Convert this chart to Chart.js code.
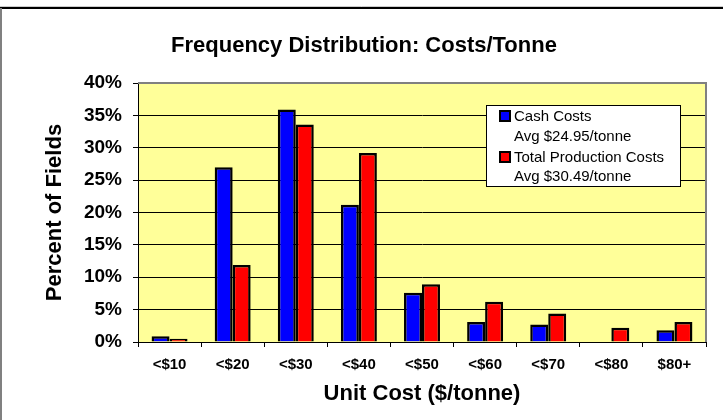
<!DOCTYPE html>
<html>
<head>
<meta charset="utf-8">
<script src="https://cdn.jsdelivr.net/npm/chart.js@4/dist/chart.umd.min.js"></script>
<style>
  html, body { margin: 0; padding: 0; background: #ffffff; }
  #wrap { width: 723px; height: 420px; }
</style>
</head>
<body>
<div id="wrap"><canvas id="c" width="723" height="420"></canvas></div>
<script>
// ---- data ----
const categories = ['<$10', '<$20', '<$30', '<$40', '<$50', '<$60', '<$70', '<$80', '$80+'];
const cashCosts  = [0.9, 27.0, 35.9, 21.2, 7.6, 3.1, 2.7, 0, 1.8];
const totalCosts = [0.5, 11.9, 33.6, 29.2, 8.9, 6.2, 4.4, 2.2, 3.1];
const yTickLabels = ['0%', '5%', '10%', '15%', '20%', '25%', '30%', '35%', '40%'];
const seriesNames = ['Cash Costs', 'Total Production Costs'];
const seriesNotes = ['Avg $24.95/tonne', 'Avg $30.49/tonne'];
const chartTitle = 'Frequency Distribution: Costs/Tonne';
const xTitle = 'Unit Cost ($/tonne)';
const yTitle = 'Percent of Fields';

const FONT = "'Liberation Sans', Arial, sans-serif";
const seriesColors = ['#0000FF', '#FF0000'];

const framePlugin = {
  id: 'frame',
  beforeDraw(chart) {
    const { ctx, chartArea: a } = chart;
    ctx.save();
    ctx.fillStyle = '#FFFF99';
    ctx.fillRect(a.left, a.top, a.right - a.left, a.bottom - a.top);
    // outer border pieces
    ctx.strokeStyle = '#000';
    ctx.lineWidth = 2;
    ctx.beginPath(); ctx.moveTo(0, 8); ctx.lineTo(chart.width, 8); ctx.stroke();
    ctx.strokeStyle = '#cccccc';
    ctx.lineWidth = 1;
    ctx.beginPath(); ctx.moveTo(0, 6.5); ctx.lineTo(chart.width, 6.5); ctx.stroke();
    ctx.strokeStyle = '#808080';
    ctx.lineWidth = 2;
    ctx.beginPath(); ctx.moveTo(1, 8); ctx.lineTo(1, chart.height); ctx.stroke();
    ctx.restore();
  },
  beforeDatasetsDraw(chart) {
    const { ctx, chartArea: a } = chart;
    ctx.save();
    ctx.strokeStyle = '#808080';
    ctx.lineWidth = 2;
    ctx.beginPath();
    ctx.moveTo(a.left, a.top);
    ctx.lineTo(a.right, a.top);
    ctx.lineTo(a.right, a.bottom);
    ctx.stroke();
    ctx.restore();
  },
  afterDraw(chart) {
    const { ctx } = chart;
    ctx.save();
    const bx = 486.5, by = 105.5, bw = 194, bh = 81;
    ctx.fillStyle = '#ffffff';
    ctx.fillRect(bx, by, bw, bh);
    ctx.strokeStyle = '#000';
    ctx.lineWidth = 1;
    ctx.strokeRect(bx, by, bw, bh);
    ctx.font = '15px ' + FONT;
    ctx.textBaseline = 'middle';
    ctx.textAlign = 'left';
    const rows = [[116, 136], [157, 176]];
    chart.data.datasets.forEach((ds, i) => {
      const [y1, y2] = rows[i];
      ctx.fillStyle = ds.backgroundColor;
      ctx.fillRect(500, y1 - 5, 10, 10);
      ctx.strokeStyle = '#000';
      ctx.lineWidth = 2;
      ctx.strokeRect(500, y1 - 5, 10, 10);
      ctx.fillStyle = '#000';
      ctx.fillText(seriesNames[i], 514, y1 + 0.5);
      ctx.fillText(seriesNotes[i], 514, y2 + 0.5);
    });
    ctx.restore();
  }
};

new Chart(document.getElementById('c'), {
  type: 'bar',
  data: {
    labels: categories,
    datasets: [
      { label: seriesNames[0], data: cashCosts, backgroundColor: seriesColors[0],
        borderColor: '#000', borderWidth: 2.5 },
      { label: seriesNames[1], data: totalCosts, backgroundColor: seriesColors[1],
        borderColor: '#000', borderWidth: 2.5 }
    ]
  },
  options: {
    responsive: false,
    animation: false,
    devicePixelRatio: 1,
    layout: { padding: { left: 22, right: 17, top: 0, bottom: 0 } },
    datasets: { bar: { categoryPercentage: 0.57, barPercentage: 1.0 } },
    plugins: {
      legend: { display: false },
      tooltip: { enabled: false },
      title: {
        display: true,
        text: chartTitle,
        color: '#000',
        font: { family: FONT, size: 22, weight: 'bold' },
        padding: { top: 33, bottom: 23.6 }
      }
    },
    scales: {
      x: {
        afterFit(scale) { scale.height = 78; },
        grid: { display: true, drawOnChartArea: false, tickLength: 5, color: '#000', tickColor: '#000', offset: true },
        border: { display: true, color: '#000', width: 1 },
        ticks: {
          color: '#000', padding: 9, maxRotation: 0, autoSkip: false,
          font: { family: FONT, size: 15, weight: 'bold' }
        },
        title: {
          display: true, text: xTitle, color: '#000',
          font: { family: FONT, size: 22, weight: 'bold' },
          padding: { top: 0, bottom: 13 }
        }
      },
      y: {
        min: 0, max: 40,
        afterFit(scale) { scale.width = 116; },
        grid: {
          tickLength: 5,
          color: (c) => (c.tick && c.tick.value === 40) ? 'rgba(0,0,0,0)' : '#000',
          tickColor: '#000'
        },
        border: { display: true, color: '#000', width: 1 },
        ticks: {
          stepSize: 5, padding: 11, color: '#000',
          font: { family: FONT, size: 19, weight: 'bold' },
          callback: (v, i) => yTickLabels[i]
        },
        title: {
          display: true, text: yTitle, color: '#000',
          font: { family: FONT, size: 22, weight: 'bold' },
          padding: { top: 20, bottom: 0 }
        }
      }
    }
  },
  plugins: [framePlugin]
});
</script>
</body>
</html>
